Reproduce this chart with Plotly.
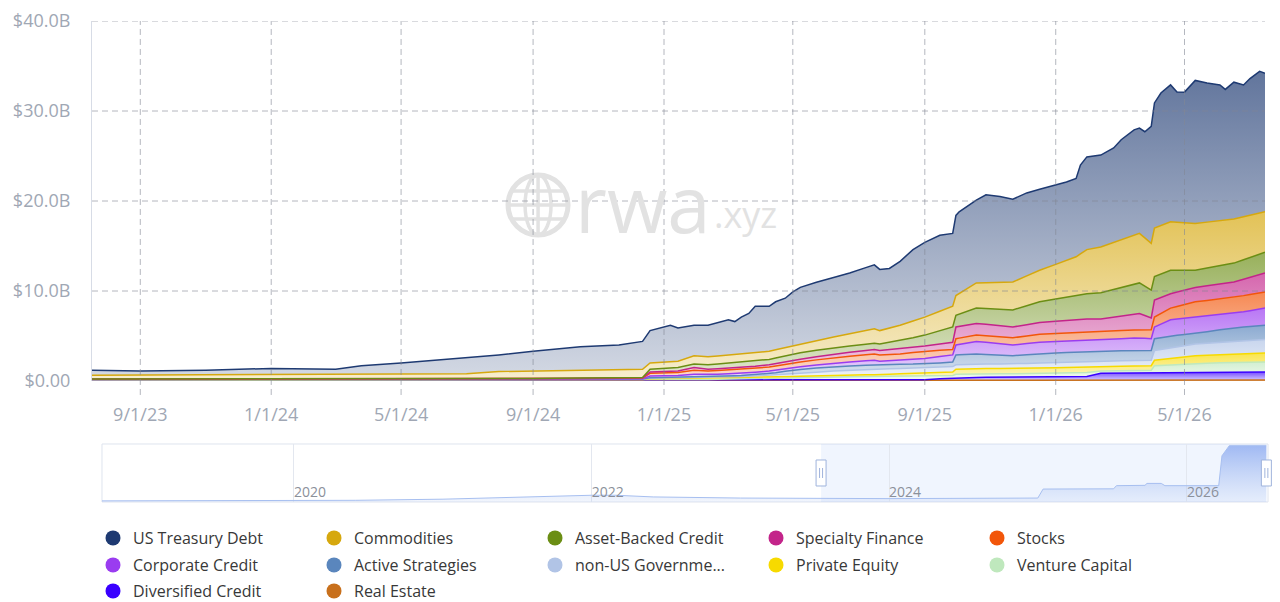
from datetime import date
import plotly.graph_objects as go

OUTPUT_HTML = "out.html"

# Visible window of the main chart, and the full span of the overview slider
VIEW_START = "2023-07-18"
VIEW_END = "2026-07-15"
SLIDER_START = "2018-09-17"
SLIDER_END = "2026-07-19"

# US Treasury Debt carries the jagged top edge, so it gets the densest date grid (values in $B)
TREASURY_DATES = [
    "2023-07-18", "2023-09-01", "2023-11-01", "2024-01-01", "2024-03-01", "2024-03-25",
    "2024-05-01", "2024-07-01", "2024-07-31", "2024-09-01", "2024-10-15", "2024-11-20",
    "2024-12-12", "2024-12-19", "2025-01-01", "2025-01-07", "2025-01-14", "2025-01-29",
    "2025-02-11", "2025-02-20", "2025-03-02", "2025-03-08", "2025-03-14", "2025-03-21",
    "2025-03-27", "2025-04-09", "2025-04-15", "2025-04-24", "2025-05-01", "2025-05-08",
    "2025-05-23", "2025-06-08", "2025-06-23", "2025-07-08", "2025-07-16", "2025-07-21",
    "2025-07-30", "2025-08-09", "2025-08-21", "2025-09-01", "2025-09-15", "2025-09-27",
    "2025-09-30", "2025-10-03", "2025-10-19", "2025-10-28", "2025-11-10", "2025-11-22",
    "2025-12-05", "2025-12-17", "2026-01-01", "2026-01-11", "2026-01-20", "2026-01-24",
    "2026-01-30", "2026-02-12", "2026-02-24", "2026-03-03", "2026-03-15", "2026-03-20",
    "2026-03-25", "2026-03-31", "2026-04-03", "2026-04-09", "2026-04-18", "2026-04-24",
    "2026-05-01", "2026-05-11", "2026-05-22", "2026-06-03", "2026-06-08", "2026-06-16",
    "2026-06-25", "2026-07-01", "2026-07-10", "2026-07-15",
]
US_TREASURY_DEBT = [
    0.55, 0.44, 0.53, 0.71, 0.60, 0.98, 1.25, 1.80, 1.85, 2.19, 2.62, 2.74,
    3.10, 3.60, 3.90, 4.05, 3.70, 3.40, 3.50, 3.71, 3.92, 3.66, 4.10, 4.42,
    5.15, 5.00, 5.34, 5.49, 6.00, 6.32, 6.50, 6.60, 6.74, 6.99, 7.10, 6.80,
    6.62, 7.10, 7.93, 8.30, 8.45, 8.10, 8.90, 9.08, 9.20, 9.77, 9.54, 9.20,
    9.22, 9.00, 8.84, 8.70, 8.70, 9.88, 10.30, 10.20, 10.50, 11.11, 11.71, 11.70,
    11.80, 13.00, 13.90, 14.72, 15.20, 14.45, 14.51, 15.90, 15.45, 15.08, 14.51, 15.20,
    14.65, 15.19, 15.74, 15.40,
]

# coarser grid shared by the other asset classes (values in $B)
CLASS_DATES = [
    "2023-07-18", "2024-03-01", "2024-07-01", "2024-07-31", "2024-12-12", "2024-12-19",
    "2025-01-14", "2025-01-29", "2025-02-11", "2025-03-14", "2025-04-09", "2025-05-01",
    "2025-06-08", "2025-07-16", "2025-07-21", "2025-08-09", "2025-09-01", "2025-09-27",
    "2025-09-30", "2025-10-19", "2025-11-22", "2025-12-17", "2026-01-20", "2026-01-30",
    "2026-02-12", "2026-03-20", "2026-03-31", "2026-04-03", "2026-04-18", "2026-05-11",
    "2026-06-16", "2026-07-15",
]
COMMODITIES = [
    0.42, 0.47, 0.57, 0.80, 0.92, 0.70, 0.70, 0.90, 0.90, 0.90, 0.90, 0.90,
    1.20, 1.60, 1.50, 1.70, 2.00, 2.30, 2.20, 2.80, 3.10, 3.50, 4.30, 4.90,
    5.10, 5.50, 5.20, 5.40, 5.40, 5.20, 4.90, 4.50,
]
ASSET_BACKED_CREDIT = [
    0.01, 0.01, 0.01, 0.01, 0.03, 0.30, 0.40, 0.40, 0.50, 0.60, 0.60, 0.70,
    0.70, 0.70, 0.70, 0.90, 1.20, 1.70, 1.30, 1.70, 1.90, 2.30, 2.70, 2.80,
    2.90, 3.40, 3.10, 2.60, 2.60, 1.90, 2.10, 2.30,
]
SPECIALTY_FINANCE = [
    0.02, 0.02, 0.02, 0.02, 0.03, 0.15, 0.15, 0.30, 0.20, 0.20, 0.25, 0.30,
    0.40, 0.50, 0.50, 0.60, 0.60, 0.80, 1.30, 1.30, 1.20, 1.30, 1.40, 1.40,
    1.40, 1.80, 1.30, 1.90, 1.60, 1.60, 1.70, 2.10,
]
STOCKS = [
    0.02, 0.02, 0.02, 0.02, 0.07, 0.30, 0.35, 0.45, 0.40, 0.45, 0.45, 0.50,
    0.60, 0.70, 0.70, 0.70, 0.80, 0.60, 0.70, 0.70, 0.80, 0.90, 0.90, 0.90,
    0.90, 0.90, 1.00, 1.10, 1.30, 1.70, 1.80, 1.80,
]
CORPORATE_CREDIT = [
    0.02, 0.02, 0.02, 0.03, 0.04, 0.20, 0.20, 0.30, 0.25, 0.25, 0.30, 0.30,
    0.40, 0.50, 0.40, 0.45, 0.60, 0.80, 1.10, 1.40, 1.20, 1.25, 1.30, 1.30,
    1.30, 1.40, 1.30, 1.30, 1.80, 1.80, 1.60, 1.90,
]
ACTIVE_STRATEGIES = [
    0.02, 0.02, 0.02, 0.02, 0.02, 0.05, 0.06, 0.07, 0.07, 0.10, 0.15, 0.40,
    0.50, 0.45, 0.45, 0.45, 0.40, 0.50, 1.10, 1.10, 0.90, 1.05, 1.05, 1.10,
    1.10, 1.10, 1.10, 1.30, 1.30, 1.20, 1.50, 1.60,
]
NON_US_GOVERNMENT = [
    0.02, 0.02, 0.02, 0.02, 0.02, 0.05, 0.05, 0.08, 0.07, 0.14, 0.23, 0.30,
    0.45, 0.65, 0.65, 0.60, 0.60, 0.60, 0.50, 0.50, 0.50, 0.55, 0.65, 0.65,
    0.65, 0.60, 0.60, 1.10, 1.20, 1.30, 1.40, 1.50,
]
PRIVATE_EQUITY = [
    0.02, 0.02, 0.02, 0.03, 0.07, 0.10, 0.12, 0.12, 0.13, 0.13, 0.15, 0.15,
    0.20, 0.18, 0.18, 0.25, 0.32, 0.38, 0.55, 0.60, 0.60, 0.60, 0.60, 0.60,
    0.45, 0.50, 0.50, 0.60, 0.70, 0.85, 0.95, 1.00,
]
VENTURE_CAPITAL = [
    0.02, 0.02, 0.02, 0.02, 0.02, 0.05, 0.07, 0.08, 0.08, 0.13, 0.17, 0.20,
    0.30, 0.37, 0.37, 0.40, 0.43, 0.30, 0.40, 0.40, 0.35, 0.37, 0.40, 0.45,
    0.25, 0.32, 0.32, 0.80, 0.87, 0.99, 1.07, 1.10,
]
DIVERSIFIED_CREDIT = [
    0.03, 0.03, 0.03, 0.03, 0.03, 0.05, 0.05, 0.05, 0.05, 0.05, 0.05, 0.10,
    0.10, 0.10, 0.10, 0.10, 0.10, 0.24, 0.27, 0.32, 0.37, 0.40, 0.42, 0.42,
    0.77, 0.80, 0.80, 0.80, 0.83, 0.86, 0.88, 0.90,
]
REAL_ESTATE = [
    0.05, 0.05, 0.05, 0.05, 0.05, 0.05, 0.05, 0.05, 0.05, 0.05, 0.05, 0.05,
    0.05, 0.05, 0.05, 0.05, 0.05, 0.08, 0.08, 0.08, 0.08, 0.08, 0.08, 0.08,
    0.08, 0.08, 0.08, 0.10, 0.10, 0.10, 0.10, 0.10,
]

# overview strip under the chart (relative heights as drawn in the zoom slider)
SLIDER_DATES = [
    "2018-09-17", "2020-01-01", "2020-06-01", "2021-01-01", "2021-06-01", "2021-10-01",
    "2022-01-01", "2022-03-01", "2022-06-01", "2023-01-01", "2023-07-01", "2024-01-01",
    "2024-12-31", "2025-01-13", "2025-07-05", "2025-07-12", "2025-09-20", "2025-09-25",
    "2025-10-30", "2025-11-08", "2026-03-20", "2026-03-28", "2026-04-15", "2026-07-15",
]
SLIDER_TOTAL = [
    1.0, 1.0, 1.5, 2.5, 4.0, 5.0, 6.0, 6.0, 4.5, 3.5, 3.0, 3.0,
    3.5, 11.5, 11.7, 14.5, 14.8, 16.5, 16.5, 14.5, 14.5, 41.0, 50.0, 50.0,
]

X_TICKS = ["2023-09-01", "2024-01-01", "2024-05-01", "2024-09-01", "2025-01-01",
           "2025-05-01", "2025-09-01", "2026-01-01", "2026-05-01"]
X_TICK_TEXT = ["9/1/23", "1/1/24", "5/1/24", "9/1/24", "1/1/25",
               "5/1/25", "9/1/25", "1/1/26", "5/1/26"]
Y_TICKS = [0, 10, 20, 30, 40]
Y_TICK_TEXT = ["$0.00", "$10.0B", "$20.0B", "$30.0B", "$40.0B"]

# legend order (top of the stack first), five per legend row
SERIES = [
    ("US Treasury Debt", "#1e3a72", TREASURY_DATES, US_TREASURY_DEBT),
    ("Commodities", "#d6a80e", CLASS_DATES, COMMODITIES),
    ("Asset-Backed Credit", "#6b8e14", CLASS_DATES, ASSET_BACKED_CREDIT),
    ("Specialty Finance", "#c3248a", CLASS_DATES, SPECIALTY_FINANCE),
    ("Stocks", "#f2560a", CLASS_DATES, STOCKS),
    ("Corporate Credit", "#9a3cf0", CLASS_DATES, CORPORATE_CREDIT),
    ("Active Strategies", "#5a86bd", CLASS_DATES, ACTIVE_STRATEGIES),
    ("non-US Governme...", "#b1c4e6", CLASS_DATES, NON_US_GOVERNMENT),
    ("Private Equity", "#f7da00", CLASS_DATES, PRIVATE_EQUITY),
    ("Venture Capital", "#bfe8bd", CLASS_DATES, VENTURE_CAPITAL),
    ("Diversified Credit", "#3a00ff", CLASS_DATES, DIVERSIFIED_CREDIT),
    ("Real Estate", "#c8701c", CLASS_DATES, REAL_ESTATE),
]

FONT = "Open Sans"
AXIS_TEXT = "#a0a7b4"
GRID = "rgba(130,135,148,0.6)"
WM = "#e2e2e2"

# the page body adds an 8px offset, so the figure is 8px smaller than the window
W, H = 1272, 594
M_L, M_R, M_T, M_B = 84, 12, 13, 100
SLIDER_DOMAIN = [0.0085, 1]


def rgba(hex_color, alpha):
    h = hex_color.lstrip("#")
    r, g, b = int(h[0:2], 16), int(h[2:4], 16), int(h[4:6], 16)
    return f"rgba({r},{g},{b},{alpha})"


def slider_paper_x(d):
    # paper x of a date on the overview slider axis
    s, e, t = (date.fromisoformat(v) for v in (SLIDER_START, SLIDER_END, d))
    f = (t - s).days / (e - s).days
    return SLIDER_DOMAIN[0] + f * (SLIDER_DOMAIN[1] - SLIDER_DOMAIN[0])


fig = go.Figure()

# stacked areas, bottom of the stack first
for name, color, dates, values in reversed(SERIES):
    fig.add_trace(go.Scatter(
        x=dates, y=values, name=name, stackgroup="assets", stackgaps="interpolate",
        mode="lines", line=dict(color=color, width=1.5),
        fillgradient=dict(type="vertical", colorscale=[[0, rgba(color, 0.2)], [1, rgba(color, 0.7)]]),
        showlegend=False, hoverinfo="skip",
    ))

# legend entries with round markers, one legend per row
for i, (name, color, _, _) in enumerate(SERIES):
    row = i // 5
    fig.add_trace(go.Scatter(
        x=[None], y=[None], name=name, mode="markers",
        marker=dict(color=color, size=15, symbol="circle"),
        legend="legend" if row == 0 else f"legend{row + 1}",
    ))

# overview strip
fig.add_trace(go.Scatter(
    x=SLIDER_DATES, y=SLIDER_TOTAL, xaxis="x2", yaxis="y2", mode="lines",
    line=dict(color="#a7bff0", width=1), fill="tozeroy",
    fillgradient=dict(type="vertical", colorscale=[[0, "rgba(167,191,240,0.15)"], [1, "rgba(140,170,240,0.8)"]]),
    showlegend=False, hoverinfo="skip",
))

# dashed grid drawn over the areas
shapes = []
for d in X_TICKS:
    shapes.append(dict(type="line", xref="x", yref="paper", x0=d, x1=d, y0=0.2225, y1=1,
                       line=dict(color=GRID, width=1, dash="6px,4px"), layer="above"))
for v in Y_TICKS[1:]:
    shapes.append(dict(type="line", xref="x domain", yref="y", x0=0, x1=1, y0=v, y1=v,
                       line=dict(color=GRID, width=1, dash="6px,4px"), layer="above"))

# slider frame, selected window and handles
shapes.append(dict(type="rect", xref="x2 domain", yref="y2 domain", x0=0, x1=1, y0=0, y1=1,
                   line=dict(color="#dfe4ee", width=1), fillcolor="rgba(0,0,0,0)", layer="below"))
shapes.append(dict(type="rect", xref="x2", yref="y2 domain", x0=VIEW_START, x1=VIEW_END, y0=0, y1=1,
                   line=dict(width=0), fillcolor="rgba(135,170,250,0.12)", layer="below"))
for d in [VIEW_START, VIEW_END]:
    px = slider_paper_x(d)
    handle = dict(xref="paper", yref="paper", xsizemode="pixel", ysizemode="pixel",
                  xanchor=px, yanchor=0.0603, layer="above")
    shapes.append(dict(type="rect", x0=-5, x1=5, y0=-13, y1=13,
                       line=dict(color="#9fb3dc", width=1), fillcolor="white", **handle))
    for off in [-1.5, 1.5]:
        shapes.append(dict(type="line", x0=off, x1=off, y0=-5, y1=5,
                           line=dict(color="#9fb3dc", width=1), **handle))

# watermark globe
GLOBE = dict(xref="paper", yref="paper", xsizemode="pixel", ysizemode="pixel",
             xanchor=0.3793, yanchor=0.6175, layer="below")
shapes.append(dict(type="circle", x0=-30, x1=30, y0=-30, y1=30, line=dict(color=WM, width=5), **GLOBE))
shapes.append(dict(type="circle", x0=-13, x1=13, y0=-30, y1=30, line=dict(color=WM, width=3.5), **GLOBE))
shapes.append(dict(type="line", x0=0, x1=0, y0=-30, y1=30, line=dict(color=WM, width=3.5), **GLOBE))
for yy, hw in [(0, 30), (14, 26), (-14, 26)]:
    shapes.append(dict(type="line", x0=-hw, x1=hw, y0=yy, y1=yy, line=dict(color=WM, width=3.5), **GLOBE))

legend_style = dict(
    orientation="h", xref="container", yref="container", x=85 / W, xanchor="left", yanchor="middle",
    entrywidth=176, entrywidthmode="pixels", font=dict(size=16, color="#383838"),
    itemsizing="trace", bgcolor="rgba(0,0,0,0)", traceorder="normal",
)

fig.update_layout(
    width=W, height=H,
    margin=dict(l=M_L, r=M_R, t=M_T, b=M_B, autoexpand=False),
    paper_bgcolor="white", plot_bgcolor="white",
    font=dict(family=FONT, color="#444"),
    shapes=shapes,
    annotations=[
        dict(text="rwa", xref="paper", yref="paper", x=0.4685, y=0.6216, showarrow=False,
             font=dict(family=FONT, size=78, color=WM)),
        dict(text=".xyz", xref="paper", yref="paper", x=0.5553, y=0.5967, showarrow=False,
             font=dict(family=FONT, size=36, color=WM)),
    ],
    xaxis=dict(
        domain=[0, 0.99745], range=[VIEW_START, VIEW_END], type="date", automargin=False,
        tickvals=X_TICKS, ticktext=X_TICK_TEXT, showgrid=False, zeroline=False,
        tickfont=dict(size=18, color=AXIS_TEXT), ticklabelstandoff=21,
    ),
    yaxis=dict(
        domain=[0.25156, 1], range=[0, 40], tickvals=Y_TICKS, ticktext=Y_TICK_TEXT, automargin=False,
        showgrid=False, zeroline=False, showline=True, linecolor="#d7dce6", linewidth=1,
        tickfont=dict(size=18, color=AXIS_TEXT), ticklabelstandoff=17,
    ),
    xaxis2=dict(
        domain=SLIDER_DOMAIN, range=[SLIDER_START, SLIDER_END], type="date", anchor="y2",
        tick0="2020-01-01", dtick="M24", tickformat="%Y", showgrid=True, gridcolor="#e3e7ef",
        ticklabelposition="inside right", ticklabelstandoff=-4, automargin=False,
        tickfont=dict(size=14, color="#8b909a"), zeroline=False,
    ),
    yaxis2=dict(domain=[0, 0.1206], range=[0, 51.5], anchor="x2", visible=False),
    legend=dict(legend_style, y=1 - 530 / H),
    legend2=dict(legend_style, y=1 - 557 / H),
    legend3=dict(legend_style, y=1 - 583 / H),
    hovermode=False,
)

fig.write_html(OUTPUT_HTML)
